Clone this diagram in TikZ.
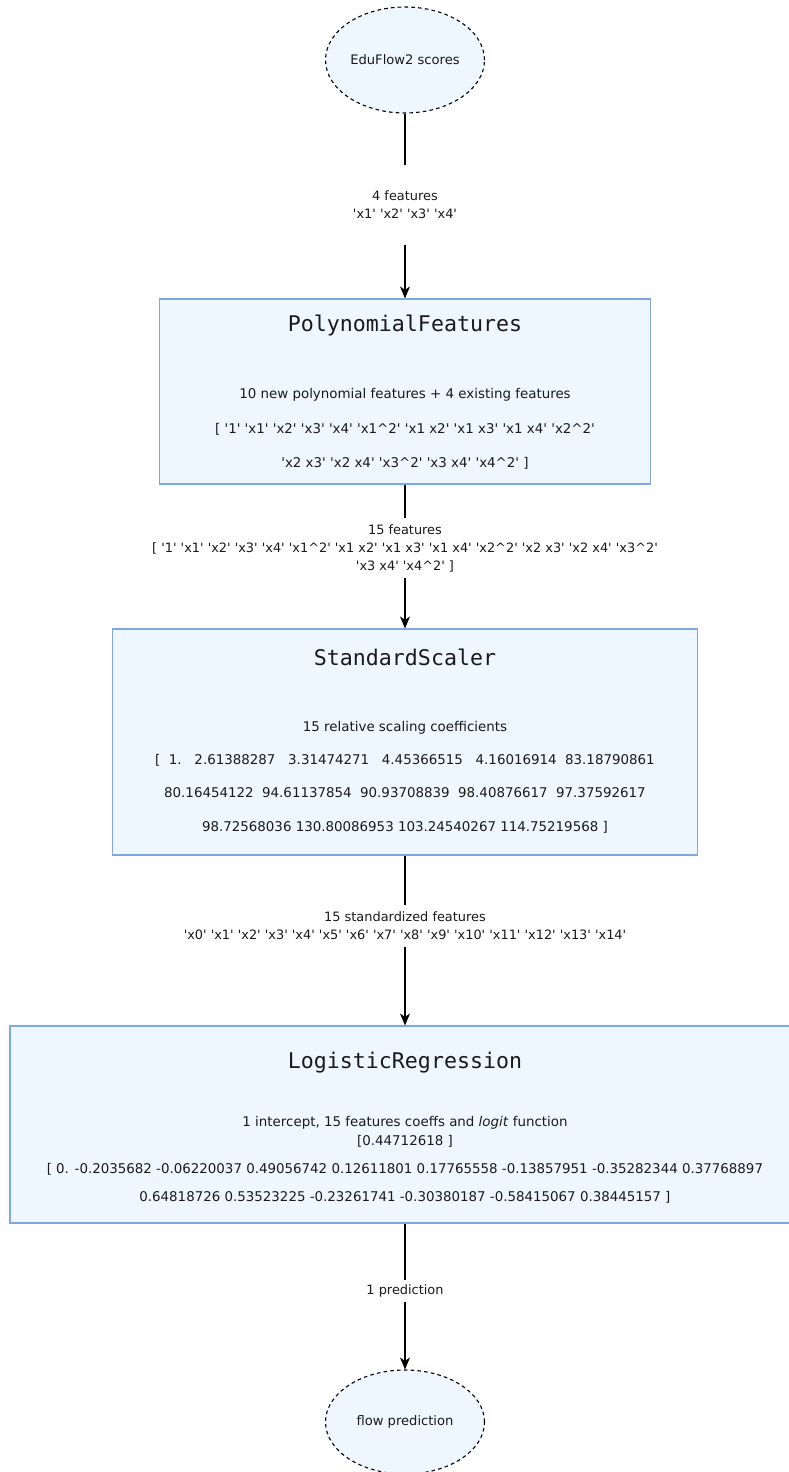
\documentclass[tikz,border=0pt]{standalone}
\usepackage{fontspec}
\setmainfont{DejaVu Sans}[Ligatures=TeXOff]
\setmonofont{DejaVu Sans Mono}
\usetikzlibrary{shapes.geometric,arrows.meta}
\definecolor{boxfill}{HTML}{EEF6FF}
\definecolor{boxline}{HTML}{7EA6E0}
\definecolor{txt}{HTML}{1A1A1A}
\begin{document}
\begin{tikzpicture}[x=1pt,y=-1pt,
  endpoint/.style={ellipse, draw=black, dash pattern=on 3.6pt off 3.2pt, fill=boxfill, line width=1.1pt,
    minimum width=159pt, minimum height=106pt, inner sep=0pt, text=txt, font=\fontsize{13.1}{15}\selectfont},
  stage/.style={rectangle, draw=boxline, fill=boxfill, line width=1.1pt, inner sep=0pt},
  ttl/.style={anchor=base, inner sep=0pt, text=txt, font=\ttfamily\fontsize{21.6}{24}\selectfont},
  body/.style={anchor=base, inner sep=0pt, text=txt, font=\fontsize{13.4}{15}\selectfont},
  elabel/.style={fill=white, inner xsep=1pt, inner ysep=0pt, align=center, text=txt, font=\fontsize{12.9}{18}\selectfont},
  conn/.style={draw=black, line width=1.2pt},
  arr/.style={conn, -{Stealth[length=12pt,width=10pt,inset=3.5pt]}}
]
\useasboundingbox (0,0) rectangle (789,1472);

% endpoints
\node[endpoint] (in) at (405,60) {EduFlow2 scores};
\node[endpoint, minimum height=104pt] (out) at (405,1422) {flow prediction};

% stage boxes
\node[stage, minimum width=491pt, minimum height=185pt] (pf) at (405,391.5) {};
\node[stage, minimum width=585pt, minimum height=226pt] (ss) at (405,742) {};
\node[stage, minimum width=790pt, minimum height=197pt] (lr) at (405,1124.5) {};

% texts of PolynomialFeatures
\node[ttl]  (pft) at (405,331.5) {PolynomialFeatures};
\node[body] (pfa) at (405,398.5) {10 new polynomial features + 4 existing features};
\node[body] (pfb) at (405,433.5) {[ '1' 'x1' 'x2' 'x3' 'x4' 'x1\^{}2' 'x1 x2' 'x1 x3' 'x1 x4' 'x2\^{}2'};
\node[body] (pfc) at (405,467.5) {'x2 x3' 'x2 x4' 'x3\^{}2' 'x3 x4' 'x4\^{}2' ]};

% texts of StandardScaler
\node[ttl]  (sst) at (405,665.5) {StandardScaler};
\node[body] (ssa) at (405,731.5) {15 relative scaling coefficients};
\node[body] (ssb) at (405,764.5) {[\ \ 1.\ \ \ 2.61388287\ \ \ 3.31474271\ \ \ 4.45366515\ \ \ 4.16016914\ \ 83.18790861};
\node[body] (ssc) at (405,797.5) {80.16454122\ \ 94.61137854\ \ 90.93708839\ \ 98.40876617\ \ 97.37592617};
\node[body] (ssd) at (405,831.5) {98.72568036 130.80086953 103.24540267 114.75219568 ]};

% texts of LogisticRegression
\node[ttl]  (lrt) at (405,1068.5) {LogisticRegression};
\node[body] (lra) at (405,1126.5) {1 intercept, 15 features coeffs and \textit{logit} function};
\node[body] (lrb) at (405,1145.5) {[0.44712618 ]};
\node[body] (lrc) at (405,1173.5) {[ 0. -0.2035682 -0.06220037 0.49056742 0.12611801 0.17765558 -0.13857951 -0.35282344 0.37768897};
\node[body] (lrd) at (405,1201.5) {0.64818726 0.53523225 -0.23261741 -0.30380187 -0.58415067 0.38445157 ]};

% edge labels
\node[elabel, minimum height=80pt] (l1) at (405,205) {4 features\\'x1' 'x2' 'x3' 'x4'};
\node[elabel, minimum height=60pt] (l2) at (405,548) {15 features\\{}[ '1' 'x1' 'x2' 'x3' 'x4' 'x1\^{}2' 'x1 x2' 'x1 x3' 'x1 x4' 'x2\^{}2' 'x2 x3' 'x2 x4' 'x3\^{}2'\\'x3 x4' 'x4\^{}2' ]};
\node[elabel, minimum height=42pt] (l3) at (405,926) {15 standardized features\\'x0' 'x1' 'x2' 'x3' 'x4' 'x5' 'x6' 'x7' 'x8' 'x9' 'x10' 'x11' 'x12' 'x13' 'x14'};
\node[elabel, minimum height=22pt] (l4) at (405,1291) {1 prediction};

% connectors
\draw[conn] (in) -- (l1);
\draw[arr]  (l1) -- (pf);
\draw[conn] (pf) -- (l2);
\draw[arr]  (l2) -- (ss);
\draw[conn] (ss) -- (l3);
\draw[arr]  (l3) -- (lr);
\draw[conn] (lr) -- (l4);
\draw[arr]  (l4) -- (out);
\end{tikzpicture}
\end{document}
